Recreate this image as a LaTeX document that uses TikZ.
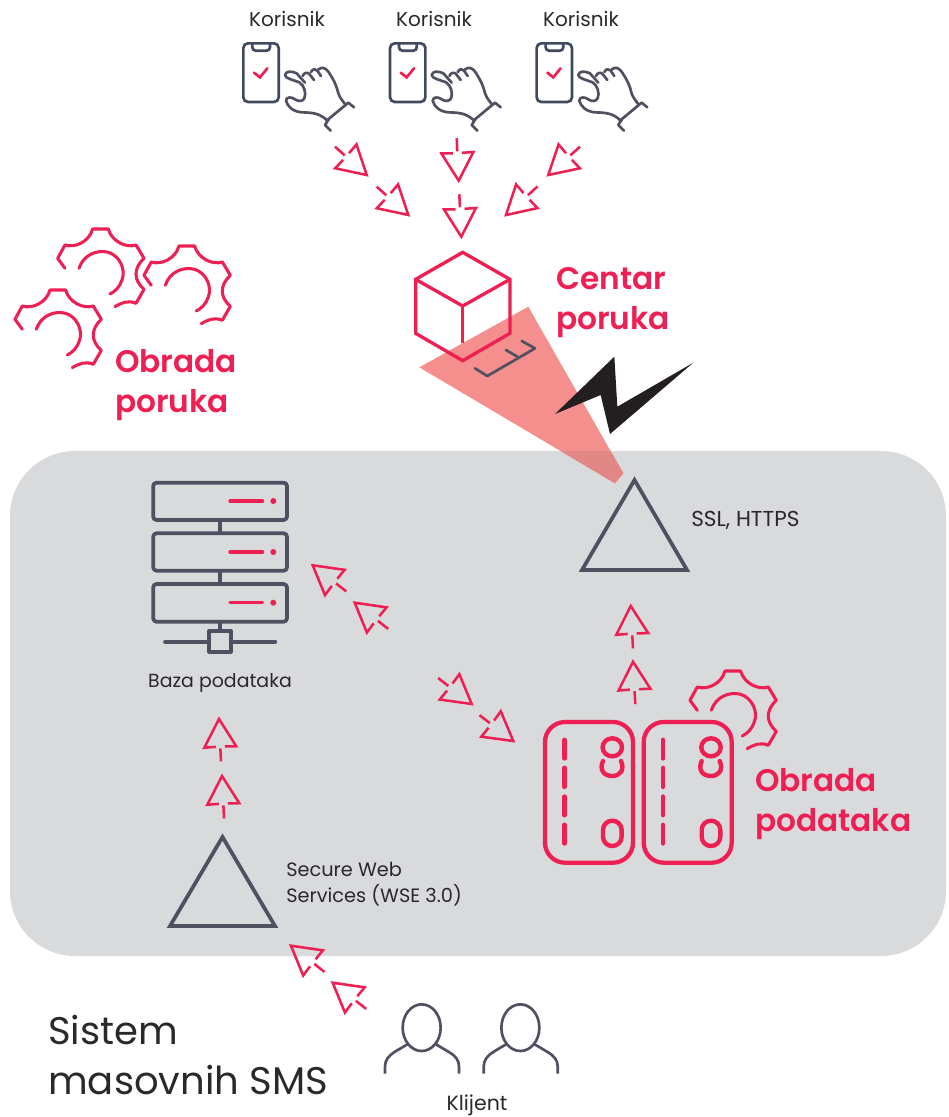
\documentclass[tikz,border=0pt]{standalone}
\usepackage{fontspec}
\setmainfont{Poppins}
\newfontfamily\headfont{Poppins SemiBold}
\usetikzlibrary{calc}
\definecolor{redc}{HTML}{EE1F52}
\definecolor{slatec}{HTML}{4F5060}
\definecolor{phonec}{HTML}{3F4A5F}
\definecolor{panelc}{HTML}{D9DADC}
\definecolor{beamc}{HTML}{F58F8D}
\definecolor{beamd}{HTML}{E18886}
\definecolor{inkc}{HTML}{2A282B}
\definecolor{boltc}{HTML}{231F20}
\tikzset{
  redline/.style={draw=redc,line width=2pt,line cap=round},
  arrowline/.style={draw=redc,line width=1.9pt,miter limit=10},
  handline/.style={draw=slatec,line width=2pt,line cap=round,line join=round},
  gearline/.style={draw=redc,line width=2.3pt,line cap=round,line join=round},
  iconline/.style={draw=slatec,line width=2.8pt,line join=round},
  cardline/.style={draw=redc,line width=3.2pt},
  label/.style={text=inkc,inner sep=0pt},
  headline/.style={text=redc,font=\fontsize{23.4pt}{30pt}\headfont,inner sep=0pt,align=left,anchor=west},
}
% tip x,y ; tail x,y (pixels)
\newcommand\arrowicon[4]{%
  \pgfmathsetmacro\arrang{atan2(-(#4-#2),#3-#1)+90}%
  \begin{scope}[shift={(#1,#2)},rotate=\arrang]
    \draw[arrowline] (-4.5,27.7) -- (-16,28) -- (0,0) -- (16,28) -- (4.5,27.7);
    \draw[arrowline] (0,29.5) -- (0,42.5);
  \end{scope}}
\newcommand\gearicon[2]{%
  \begin{scope}[shift={(#1,#2)},x=.25pt,y=-.25pt,shift={(-303,-160)}]
    \draw[gearline] (195,145) -- (173,115) -- (195,75)
      .. controls (225,85) and (268,65) .. (278,27) -- (325,27)
      .. controls (335,65) and (380,85) .. (408,75) -- (432,115)
      .. controls (400,145) and (400,180) .. (432,208) -- (408,250)
      .. controls (385,240) and (365,248) .. (345,260);
    \draw[gearline] (237,145) .. controls (250,105) and (290,88) .. (325,97)
      .. controls (360,108) and (378,150) .. (366,180)
      .. controls (360,200) and (345,215) .. (330,222);
  \end{scope}}
\newcommand\usericon[1]{%
  \begin{scope}[shift={(#1,0)},x=.25pt,y=-.25pt]
    \draw[redline] (72,218) -- (90,232) -- (112,205);
    \draw[draw=phonec,line width=2pt,rounded corners=3.5pt] (40,130) rectangle (146,306);
    \draw[draw=phonec,line width=2pt,rounded corners=2.5pt] (67,130) -- (67,152) -- (120,152) -- (120,130);
    \draw[handline] (292,362) .. controls (270,340) and (250,338) .. (215,337)
      .. controls (190,335) and (172,320) .. (168,302)
      .. controls (168,290) and (185,290) .. (195,298)
      .. controls (205,305) and (218,305) .. (223,295)
      .. controls (230,280) and (222,255) .. (208,247)
      .. controls (190,240) and (165,235) .. (165,225)
      .. controls (168,212) and (185,213) .. (200,220) -- (225,248);
    \draw[handline] (218,228) .. controls (222,218) and (232,215) .. (238,222) -- (252,240);
    \draw[handline] (243,216) .. controls (248,206) and (258,205) .. (262,212) -- (273,228);
    \draw[handline] (264,209) .. controls (275,200) and (285,202) .. (295,215)
      .. controls (315,245) and (320,260) .. (325,280) .. controls (330,295) and (340,305) .. (347,315);
    \draw[handline] (290,362) -- (355,308) -- (372,322);
    \draw[handline] (296,358) -- (285,375) -- (302,392);
  \end{scope}}
\newcommand\cardicon[1]{%
  \begin{scope}[shift={(#1,0)}]
    \draw[cardline,rounded corners=15pt] (545,722) rectangle (633,862.7);
    \foreach \ya/\yb in {740/758.3,768/786.7,796.7/815,825/843.3}
      \draw[draw=redc,line width=3.6pt,line cap=round] (564.3,\ya) -- (564.3,\yb);
    \draw[draw=redc,line width=3.3pt] (612.3,747.3) ellipse[x radius=9.7,y radius=9];
    \draw[draw=redc,line width=3.3pt,line cap=round] (603,761)
      .. controls (599,770) and (604,776) .. (612.3,776)
      .. controls (620,776) and (625,770) .. (621,761);
    \draw[draw=redc,line width=3.3pt,rounded corners=6.9pt] (603,820.7) rectangle (621.6,846);
  \end{scope}}
\newcommand\personicon[1]{%
  \begin{scope}[shift={(#1,930)},x=.25pt,y=-.25pt]
    \draw[handline,line cap=butt] (455,293) ellipse[x radius=57,y radius=70];
    \draw[handline,line cap=butt] (412,343) -- (375,365) .. controls (355,378) and (345,390) .. (345,410) -- (345,431);
    \draw[handline,line cap=butt] (498,343) -- (535,365) .. controls (557,378) and (567,390) .. (567,410) -- (567,431);
  \end{scope}}
\begin{document}
\begin{tikzpicture}[x=.75pt,y=-.75pt]
\useasboundingbox (0,0) rectangle (949,1117);
% panel
\fill[panelc,rounded corners=48.75pt] (10,451) rectangle (946,956);
% beam
\fill[beamc] (419.3,367.3) -- (528.3,306.7) -- (623.3,473.3) -- (615,483.3) -- cycle;
\begin{scope}
  \clip (0,451) rectangle (949,500);
  \fill[beamd] (419.3,367.3) -- (528.3,306.7) -- (623.3,473.3) -- (615,483.3) -- cycle;
\end{scope}
% cube
\begin{scope}[shift={(400,240)},x=.25pt,y=-.25pt]
  \draw[draw=redc,line width=2.5pt,line join=miter] (188,37) -- (330,118) -- (330,280) -- (188,362) -- (47,280) -- (47,118) -- cycle;
  \draw[draw=redc,line width=2.5pt] (47,118) -- (188,198) -- (330,118);
  \draw[draw=redc,line width=2.5pt] (188,198) -- (188,310);
  \draw[handline] (225,385) -- (262,408) -- (405,325) -- (365,303);
  \draw[handline] (318,330) -- (352,350);
  \fill[boltc] (643,350) -- (465,522) -- (602,465) -- (630,582) -- (880,368) -- (652,500) -- cycle;
\end{scope}
% users
\usericon{230}\usericon{376.7}\usericon{523.3}
\node[label,font=\fontsize{15pt}{19pt}\selectfont] (kor1) at (287,19) {Korisnik};
\node[label,font=\fontsize{15pt}{19pt}\selectfont] (kor2) at (434,19) {Korisnik};
\node[label,font=\fontsize{15pt}{19pt}\selectfont] (kor3) at (581,19) {Korisnik};
% arrows
\arrowicon{366.7}{175}{335}{146.7}
\arrowicon{408.3}{215}{376.7}{186.7}
\arrowicon{458.7}{180.7}{456.7}{138.3}
\arrowicon{461.3}{236.7}{459.3}{194}
\arrowicon{548.3}{175}{580}{146.7}
\arrowicon{506}{215}{537.3}{186.7}
\arrowicon{312.7}{565.3}{346.7}{591.7}
\arrowicon{354.7}{602.7}{388.3}{629}
\arrowicon{471.7}{704}{437.7}{677.7}
\arrowicon{513.3}{741}{479.3}{715}
\arrowicon{630.7}{606}{633}{648.3}
\arrowicon{633}{661.7}{635.3}{704.3}
\arrowicon{219}{719}{221}{762}
\arrowicon{222}{776}{224}{818}
\arrowicon{291}{945.7}{325}{972.3}
\arrowicon{332.7}{982.7}{366.7}{1009.3}
% gears
\gearicon{101}{273.3}
\gearicon{187.3}{290.3}
\gearicon{58.3}{334.3}
\gearicon{733.3}{715.3}
% triangles
\draw[iconline,line join=miter] (634.5,480) -- (687,570) -- (582,570) -- cycle;
\draw[iconline,line join=miter] (222.5,837) -- (275,926) -- (170,926) -- cycle;
% server
\foreach \yt/\yb/\ym in {482.7/520/501,533.3/570.7/552,584/621.7/602.7}{
  \draw[iconline,rounded corners=2.5pt] (153.2,\yt) rectangle (287,\yb);
  \draw[draw=redc,line width=2.6pt,line cap=round] (230,\ym) -- (262.5,\ym);
  \fill[redc] (273.3,\ym) circle (3);
}
\draw[iconline] (220,520) -- (220,533.3) (220,570.7) -- (220,584) (220,621.7) -- (220,631);
\draw[iconline,line cap=round] (165,641.7) -- (209.3,641.7) (230.7,641.7) -- (275.3,641.7);
\draw[iconline] (209.3,630.7) rectangle (230.7,651.7);
% cards
\cardicon{0}\cardicon{98.7}
% persons
\personicon{270}\personicon{368.7}
% labels
\node[headline] (centar) at (556,302.5) {Centar\\poruka};
\node[headline] (obradap) at (115,385.5) {Obrada\\poruka};
\node[headline] (obradad) at (755,804.5) {Obrada\\podataka};
\node[label,font=\fontsize{16.2pt}{19pt}\selectfont,anchor=west] (ssl) at (691,520) {SSL, HTTPS};
\node[label,font=\fontsize{14.2pt}{19pt}\selectfont] (baza) at (220,683) {Baza podataka};
\node[label,font=\fontsize{14.5pt}{19.5pt}\selectfont,anchor=west,align=left] (web) at (286,884) {Secure Web\\Services (WSE 3.0)};
\node[label,font=\fontsize{15.4pt}{19pt}\selectfont] (klijent) at (477,1105) {Klijent};
\node[text=inkc,font=\fontsize{28.9pt}{37.5pt}\selectfont,inner sep=0pt,align=left,anchor=west] (sistem) at (48,1055) {Sistem\\masovnih SMS};
\end{tikzpicture}
\end{document}
